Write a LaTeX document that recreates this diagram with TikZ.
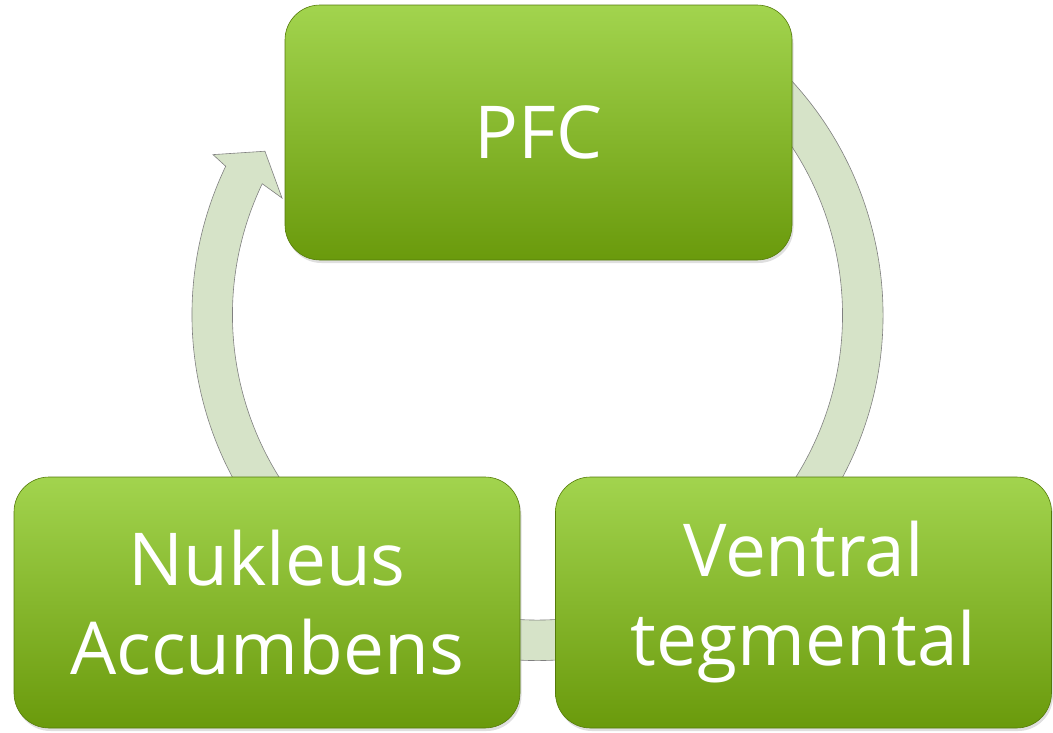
\documentclass[tikz,border=0pt]{standalone}
\usepackage{fontspec}
\setmainfont{Open Sans}
\usetikzlibrary{shadows}
\definecolor{boxtop}{RGB}{162,212,78}
\definecolor{boxbottom}{RGB}{106,154,12}
\definecolor{ringfill}{RGB}{214,227,200}
\definecolor{ringline}{RGB}{128,128,128}
\tikzset{
  region/.style={rounded corners=35pt, top color=boxtop, bottom color=boxbottom,
    draw=boxbottom!80!black, line width=0.6pt, text=white, align=center,
    font=\fontsize{73}{89}\selectfont,
    drop shadow={opacity=0.25, shadow xshift=1.5pt, shadow yshift=-3pt}},
}
\begin{document}
\begin{tikzpicture}[x=1pt, y=-1pt]
  \useasboundingbox (0,0) rectangle (1053,732);
  \coordinate (hub) at (537.5,315);
  % ring arrow
  \begin{scope}[shift={(hub)}]
    \filldraw[fill=ringfill, draw=ringline, line width=0.6pt]
      (-60:345.5) arc[start angle=-60, end angle=205.5, radius=345.5]
      -- (206.3:362) -- (211:318) -- (204.6:281) -- (205.5:305)
      arc[start angle=205.5, end angle=-60, radius=305] -- cycle;
  \end{scope}
  \node[region, minimum width=507pt, minimum height=255pt] (pfc) at (538.5,132.5) {PFC};
  \node[region, minimum width=506pt, minimum height=251pt] (nac) at (267,602.5) {Nukleus\\Accumbens};
  \node[region, minimum width=496pt, minimum height=251pt] (vta) at (803.5,602.5) {Ventral\\tegmental};
\end{tikzpicture}
\end{document}
